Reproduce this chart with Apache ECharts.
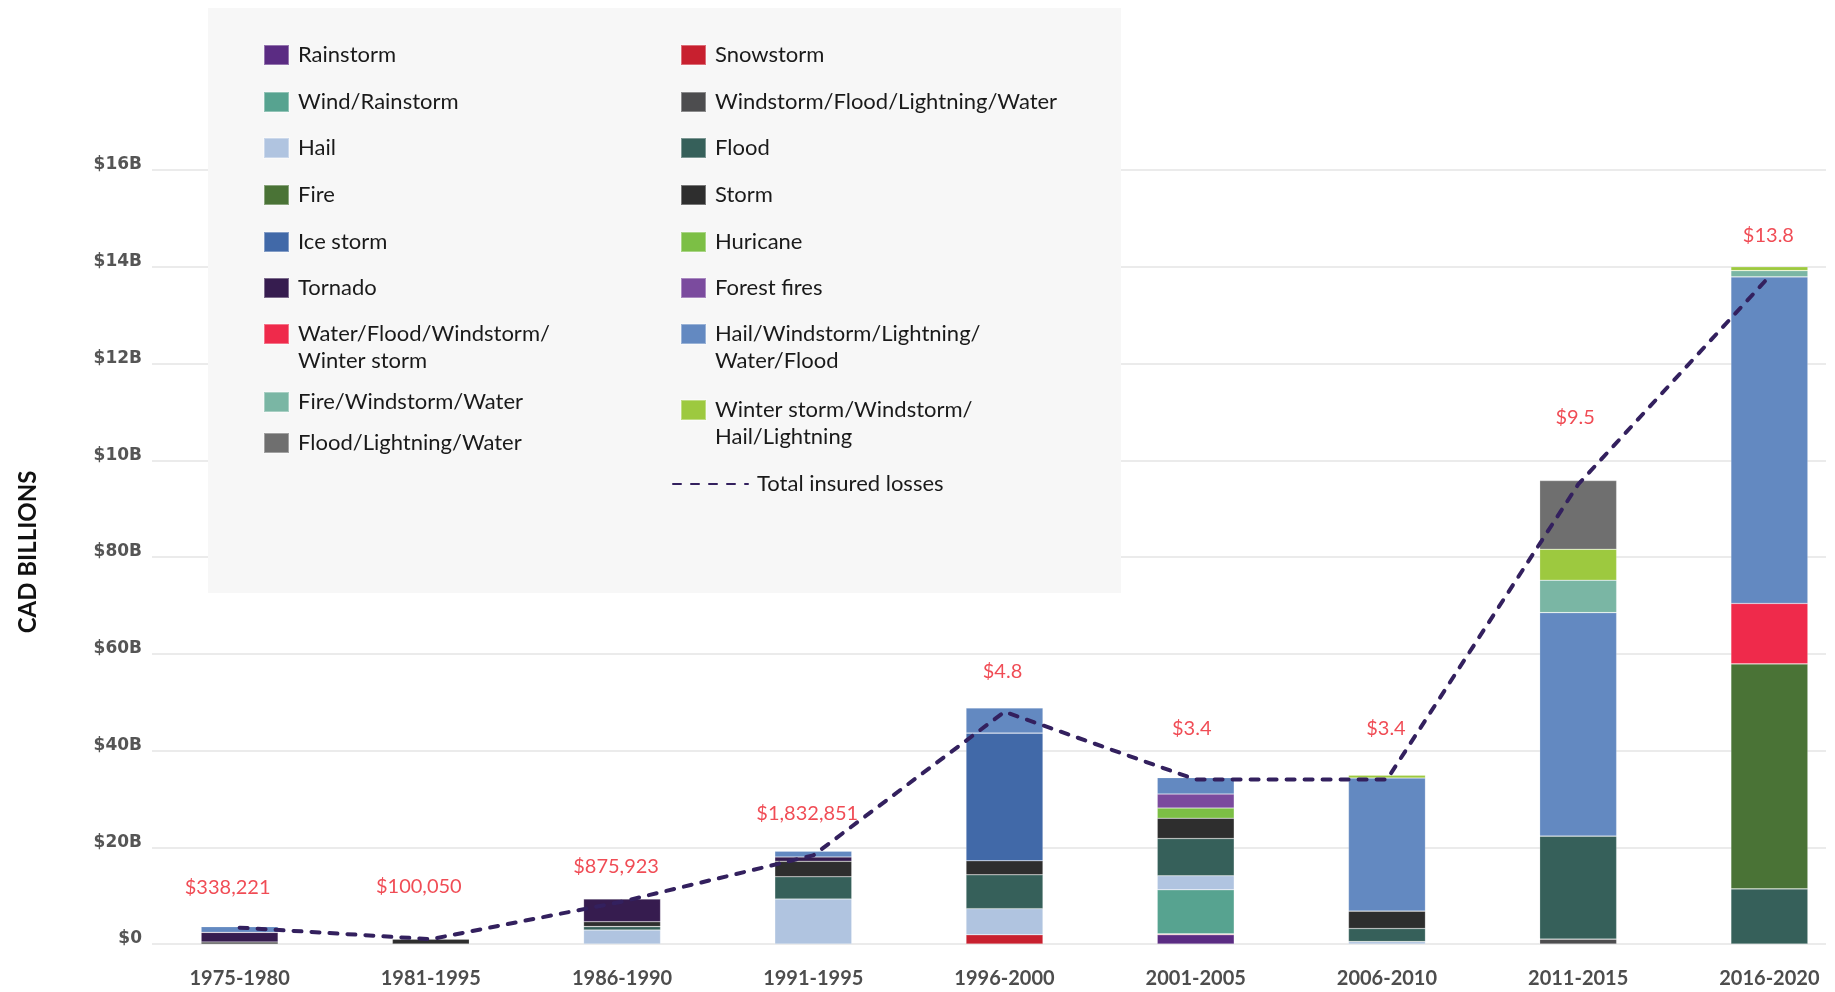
<!DOCTYPE html>
<html>
<head>
<meta charset="utf-8">
<script src="https://cdn.jsdelivr.net/npm/echarts@6/dist/echarts.min.js"></script>
<style>
  html, body { margin: 0; padding: 0; background: #ffffff; }
  #chart { width: 1835px; height: 992px; }
</style>
</head>
<body>
<div id="chart"></div>
<script>
// ---- data ----------------------------------------------------------------
const periods = ['1975-1980', '1981-1995', '1986-1990', '1991-1995', '1996-2000',
                 '2001-2005', '2006-2010', '2011-2015', '2016-2020'];

const yTickLabels = ['$0', '$20B', '$40B', '$60B', '$80B', '$10B', '$12B', '$14B', '$16B'];

// insured losses by hazard type (axis units), '-' where nothing was recorded
const rainstorm                   = ['-', '-', '-', '-', '-', 0.19, '-', '-', '-'];
const snowstorm                   = ['-', '-', '-', '-', 0.19, 0.02, '-', '-', '-'];
const windRainstorm               = ['-', '-', '-', '-', '-', 0.91, '-', '-', '-'];
const windstormFloodLightningWater= ['-', '-', '-', '-', '-', '-', '-', 0.10, '-'];
const hail                        = ['-', '-', 0.29, 0.93, 0.54, 0.29, 0.05, '-', '-'];
const flood                       = ['-', '-', 0.07, 0.46, 0.70, 0.77, 0.27, 2.13, 1.14];
const fire                        = ['-', '-', '-', '-', '-', '-', '-', '-', 4.65];
const storm                       = [0.04, 0.10, 0.10, 0.32, 0.29, 0.42, 0.36, '-', '-'];
const iceStorm                    = ['-', '-', '-', '-', 2.64, '-', '-', '-', '-'];
const huricane                    = ['-', '-', '-', '-', '-', 0.21, '-', '-', '-'];
const tornado                     = [0.20, '-', 0.47, 0.09, '-', '-', '-', '-', '-'];
const forestFires                 = ['-', '-', '-', '-', '-', 0.29, '-', '-', '-'];
const waterFloodWindstormWinter   = ['-', '-', '-', '-', '-', '-', '-', '-', 1.25];
const hailWindstormLightningWater = [0.12, '-', '-', 0.12, 0.52, 0.34, 2.75, 4.62, 6.75];
const fireWindstormWater          = ['-', '-', '-', '-', '-', '-', '-', 0.67, 0.13];
const winterWindstormHail         = ['-', '-', '-', '-', '-', '-', 0.06, 0.64, 0.08];
const floodLightningWater         = ['-', '-', '-', '-', '-', '-', '-', 1.42, '-'];

const totalLosses = [0.338221, 0.100050, 0.875923, 1.832851, 4.8, 3.4, 3.4, 9.5, 13.8];
const totalLabels = ['$338,221', '$100,050', '$875,923', '$1,832,851', '$4.8', '$3.4', '$3.4', '$9.5', '$13.8'];

const hazardNames = [
  'Rainstorm', 'Snowstorm', 'Wind/Rainstorm', 'Windstorm/Flood/Lightning/Water',
  'Hail', 'Flood', 'Fire', 'Storm', 'Ice storm', 'Huricane', 'Tornado', 'Forest fires',
  'Water/Flood/Windstorm/\nWinter storm', 'Hail/Windstorm/Lightning/\nWater/Flood',
  'Fire/Windstorm/Water', 'Winter storm/Windstorm/\nHail/Lightning', 'Flood/Lightning/Water'
];
const hazardValues = [
  rainstorm, snowstorm, windRainstorm, windstormFloodLightningWater,
  hail, flood, fire, storm, iceStorm, huricane, tornado, forestFires,
  waterFloodWindstormWinter, hailWindstormLightningWater,
  fireWindstormWater, winterWindstormHail, floodLightningWater
];
const totalName = 'Total insured losses';

// ---- styling ---------------------------------------------------------------
const hazardColors = [
  '#5b2c83', '#c8202f', '#57a390', '#4d4d4f',
  '#b0c4e0', '#36605a', '#4a7336', '#2e2e2e', '#4169a8', '#7cbf45', '#361c4f', '#7b4b9e',
  '#ef2a4b', '#6389c1', '#7ab6a4', '#9dc93f', '#6f6f6f'
];
const lineColor = '#33205e';
const labelColor = '#ec1f2a';

// placement of each total label relative to its point
const labelLift = [30, 42, 25, 31, 30, 40, 40, 56, 30];
const labelShiftX = [-12, -12, -6, -6, -2, -4, -1, -3, -1];

// legend rows: two columns, centre line of each entry's first text line
const legendLeftX = 263, legendRightX = 680, legendLineX = 672;
const legendRowsLeft  = [55, 102, 148, 195, 242, 288, 334, 402, 443];
const legendRowsRight = [55, 102, 148, 195, 242, 288, 334, 410, 484];

const legendFont = { fontFamily: 'Lato', fontSize: 22, lineHeight: 27, color: '#1a1a1a', padding: [0, 0, 0, 4] };

function legendEntry(name, x, centreY) {
  const twoLines = name.indexOf('\n') >= 0;
  const isLine = name === totalName;
  return {
    data: [isLine ? { name: name, itemStyle: { opacity: 0 } } : name],
    left: x,
    top: centreY - (twoLines ? 40.5 : 13.5),
    orient: 'vertical',
    padding: 0,
    icon: isLine ? undefined : 'rect',
    itemWidth: isLine ? 75 : 25,
    itemHeight: 20,
    selectedMode: false,
    // a leading blank line keeps the first text line level with the swatch
    formatter: n => (n.indexOf('\n') >= 0 ? '\n' + n : n),
    textStyle: legendFont
  };
}

const legends = [];
hazardNames.forEach((name, i) => {
  const row = Math.floor(i / 2);
  if (i % 2 === 0) legends.push(legendEntry(name, legendLeftX, legendRowsLeft[row]));
  else legends.push(legendEntry(name, legendRightX, legendRowsRight[row]));
});
legends.push(legendEntry(totalName, legendLineX, legendRowsRight[8]));

// ---- series ----------------------------------------------------------------
const series = hazardNames.map((name, i) => ({
  name: name,
  type: 'bar',
  stack: 'losses',
  xAxisIndex: 0,
  yAxisIndex: 0,
  barWidth: 77,
  itemStyle: {
    color: hazardColors[i],
    borderColor: 'rgba(255,255,255,0.35)',
    borderWidth: 0.6
  },
  data: hazardValues[i]
}));

series.push({
  name: totalName,
  type: 'line',
  xAxisIndex: 0,
  yAxisIndex: 0,
  z: 5,
  symbol: 'none',
  lineStyle: { color: lineColor, width: 4, type: [8, 10], cap: 'round' },
  itemStyle: { color: lineColor },
  data: totalLosses
});

// value labels for the total line
series.push({
  type: 'scatter',
  xAxisIndex: 0,
  yAxisIndex: 0,
  z: 6,
  silent: true,
  symbolSize: 1,
  itemStyle: { color: 'rgba(0,0,0,0)' },
  label: {
    show: true,
    position: 'top',
    color: labelColor,
    fontFamily: 'Lato',
    fontSize: 20,
    formatter: p => totalLabels[p.dataIndex]
  },
  data: totalLosses.map((v, i) => ({
    value: v,
    label: { distance: labelLift[i], offset: [labelShiftX[i], 0] }
  }))
});

const chart = echarts.init(document.getElementById('chart'), null, { renderer: 'canvas' });
chart.setOption({
  animation: false,
  backgroundColor: '#ffffff',
  grid: [
    { left: 144, width: 1721, top: 170, bottom: 48, outerBoundsMode: 'none' },
    { left: 152, right: 9, top: 170, bottom: 48, outerBoundsMode: 'none' }
  ],
  graphic: [{
    type: 'rect',
    left: 208, top: 8, z: 1,
    shape: { width: 913, height: 585 },
    style: { fill: '#f7f7f7' }
  }],
  legend: legends,
  xAxis: [
    {
      type: 'category', gridIndex: 0, data: periods,
      axisLine: { show: false }, axisTick: { show: false },
      axisLabel: { fontFamily: 'Lato', fontWeight: 'bold', fontSize: 20, color: '#4d4d4d', margin: 25 }
    },
    { type: 'value', gridIndex: 1, min: 0, max: 1, show: false }
  ],
  yAxis: [
    { type: 'value', gridIndex: 0, min: 0, max: 16, interval: 2, show: false },
    {
      type: 'value', gridIndex: 1, min: 0, max: 16, interval: 2,
      axisLine: { show: false }, axisTick: { show: false },
      splitLine: { lineStyle: { color: '#e4e4e4', width: 1.5 } },
      axisLabel: {
        margin: 10, fontFamily: 'DejaVu Sans', fontWeight: 'bold', fontSize: 17, color: '#555555',
        verticalAlign: 'bottom', lineHeight: 10,
        formatter: v => yTickLabels[Math.round(v / 2)]
      },
      name: 'CAD BILLIONS', nameLocation: 'middle', nameRotate: 90, nameGap: 112,
      nameTextStyle: { fontFamily: 'Lato', fontWeight: 'bold', fontSize: 24, color: '#111111', padding: [0, 0, 0, 10] }
    }
  ],
  series: series
});
</script>
</body>
</html>
